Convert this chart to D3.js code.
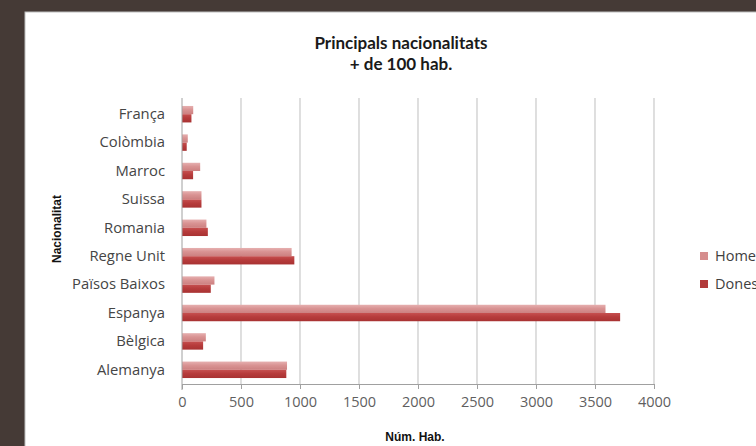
<!DOCTYPE html>
<html><head><meta charset="utf-8">
<script src="https://cdn.jsdelivr.net/npm/d3@7"></script>
<style>
html,body{margin:0;padding:0;background:#453a36;overflow:hidden;}
svg{display:block;}
</style></head>
<body>
<script>
const categories = ["França","Colòmbia","Marroc","Suissa","Romania","Regne Unit","Països Baixos","Espanya","Bèlgica","Alemanya"];
const homes = [95, 49, 154, 165, 207, 929, 275, 3589, 202, 890];
const dones = [80, 40, 94, 165, 219, 952, 244, 3713, 179, 884];
const seriesNames = ["Homes","Dones"];
const xTicks = [0,500,1000,1500,2000,2500,3000,3500,4000];

const W = 756, H = 446;
const svg = d3.select("body").append("svg").attr("width", W).attr("height", H);

const defs = svg.append("defs");
function grad(id, c1, c2, c3){
  const g = defs.append("linearGradient").attr("id", id).attr("x1",0).attr("y1",0).attr("x2",0).attr("y2",1);
  g.append("stop").attr("offset","0%").attr("stop-color",c1);
  g.append("stop").attr("offset","45%").attr("stop-color",c2);
  g.append("stop").attr("offset","100%").attr("stop-color",c3);
}
grad("gLight","#e6b0b0","#d99393","#cc8080");
grad("gDark","#c65050","#b73c3c","#a83232");
const fills = ["url(#gLight)","url(#gDark)"];
const legendFills = ["#d68e8e","#b23a3a"];

// white panel
svg.append("rect").attr("x",25).attr("y",12).attr("width",W).attr("height",H)
  .attr("fill","#fff").attr("stroke","#bdbdbd").attr("stroke-width",1);

const x = d3.scaleLinear().domain([0,4000]).range([182,654]);
const y = d3.scaleBand().domain(categories).range([100,384]).paddingInner(0.42).paddingOuter(0.21);
const ySub = d3.scaleBand().domain(seriesNames).range([0, y.bandwidth()]);

// gridlines
svg.append("g").selectAll("line").data(xTicks.filter(d=>d>0)).join("line")
  .attr("x1",d=>x(d)).attr("x2",d=>x(d)).attr("y1",98).attr("y2",384)
  .attr("stroke","#c9c9c9").attr("stroke-width",1.2);

// bars
const rows = categories.map((c,i)=>({c, vals:[homes[i], dones[i]]}));
const g = svg.append("g");
rows.forEach(r=>{
  r.vals.forEach((v,j)=>{
    g.append("rect")
      .attr("x", x(0))
      .attr("y", y(r.c) + ySub(seriesNames[j]))
      .attr("width", x(v)-x(0))
      .attr("height", ySub.bandwidth())
      .attr("fill", fills[j]);
  });
});

// x axis
const xAxis = d3.axisBottom(x).tickValues(xTicks).tickSize(5).tickPadding(8).tickFormat(d3.format("d"));
const xg = svg.append("g").attr("transform","translate(0,384)").call(xAxis);
xg.select(".domain").attr("stroke","#a0a0a0");
xg.selectAll(".tick line").attr("stroke","#a0a0a0");
xg.selectAll("text").attr("fill","#5f5f5f").style("font-family","'Open Sans', sans-serif").style("font-size","14.5px");

// y axis
const yAxis = d3.axisLeft(y).tickSize(0).tickPadding(17);
const yg = svg.append("g").attr("transform","translate(182,0)").call(yAxis);
yg.select(".domain").attr("stroke","#a0a0a0").attr("d","M0,98V390");
yg.selectAll("text").attr("fill","#454545").style("font-family","'Open Sans', sans-serif").style("font-size","14.8px");

// titles
const title = svg.append("text").attr("text-anchor","middle").attr("fill","#1a1a1a")
  .style("font-family","Lato, sans-serif").style("font-weight","bold").style("font-size","17px");
title.append("tspan").attr("x",401).attr("y",49).text("Principals nacionalitats");
title.append("tspan").attr("x",401).attr("y",70).text("+ de 100 hab.");

svg.append("text").attr("transform","translate(61,229) rotate(-90)").attr("text-anchor","middle")
  .attr("fill","#111").style("font-family","'Liberation Sans', Arial, sans-serif").style("font-weight","bold").style("font-size","12px")
  .text("Nacionalitat");

svg.append("text").attr("x",415).attr("y",441).attr("text-anchor","middle")
  .attr("fill","#111").style("font-family","'Liberation Sans', Arial, sans-serif").style("font-weight","bold").style("font-size","12px")
  .text("Núm. Hab.");

// legend
const lg = svg.append("g");
seriesNames.forEach((s,i)=>{
  const cy = 256 + i*28;
  lg.append("rect").attr("x",700).attr("y",cy-4).attr("width",8).attr("height",8).attr("fill",legendFills[i]);
  lg.append("text").attr("x",715).attr("y",cy+5).attr("fill","#404040")
    .style("font-family","'Open Sans', sans-serif").style("font-size","14.5px").text(s);
});
</script>
</body></html>
